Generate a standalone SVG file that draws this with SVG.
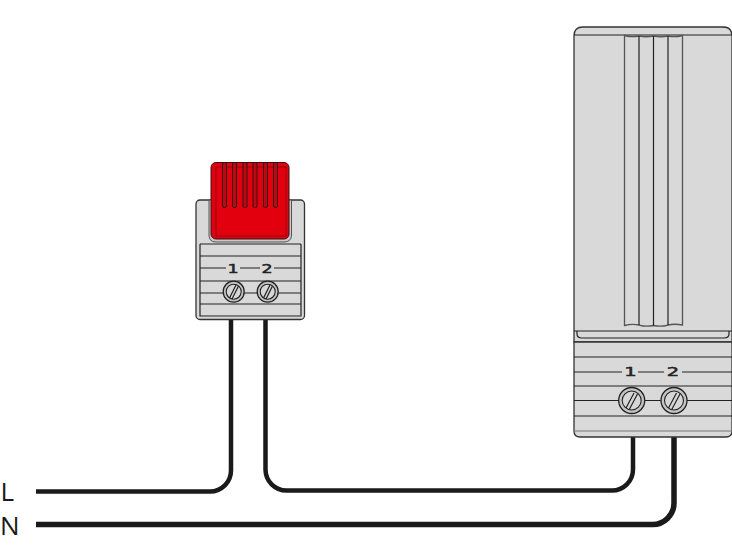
<svg xmlns="http://www.w3.org/2000/svg" width="732" height="555" viewBox="0 0 732 555">
<style>
.body{fill:#d9d9d9;stroke:#333;stroke-width:1.300}
.ln{fill:none;stroke:#222;stroke-width:1.200}
.wire{fill:none;stroke:#1a1a1a;stroke-width:4.500}
.num{font-family:"DejaVu Sans",sans-serif;fill:#222;stroke:#222;stroke-width:0.500;text-anchor:middle}
.lbl{font-family:"Open Sans",sans-serif;font-size:26px;fill:#1a1a1a}
.scr{fill:#c4c4c4;stroke:#222;stroke-width:1.300}
.scr2{fill:#d6d6d6;stroke:#222;stroke-width:1.100}
.rib{fill:#b80a12;stroke:#3a1010;stroke-width:1}
</style>
<g id="connectors">
<path class="wire" d="M231 320V470.500A21 21 0 0 1 210 491.500H36"/>
<path class="wire" d="M265.500 320V469.500A21 21 0 0 0 286.500 490.500H612A21 21 0 0 0 633 469.500V437"/>
<path class="wire" style="stroke-width:5.500" d="M674 437V503A21.500 21.500 0 0 1 652.500 524.500H36"/>
</g>
<g id="thermostat">
<rect class="body" x="196" y="200" width="108.500" height="119.500" rx="4"/>
<path class="ln" d="M200 244V316H301V244M200 244H301M200 256H301M200 268H226M240 268H260M274 268H301M200 281H301M200 293H223M244 293H257M278 293H301M200 304H301"/>
<path d="M209 200V235Q209 242 216 242H284Q291.500 242 291.500 235V200Z" fill="#c9c9c9" stroke="#555" stroke-width="1"/>
<rect x="211" y="162.500" width="78" height="76.500" rx="5" fill="#e2000f" stroke="#3a1010" stroke-width="1"/>
<rect x="216" y="167" width="70" height="69" fill="none" stroke="#8f0a10" stroke-width="1"/>
<rect class="rib" x="222.500" y="162.500" width="4" height="45" rx="1.500"/>
<rect class="rib" x="232.500" y="162.500" width="4" height="45" rx="1.500"/>
<rect class="rib" x="243" y="162.500" width="4" height="45" rx="1.500"/>
<rect class="rib" x="253" y="162.500" width="4" height="45" rx="1.500"/>
<rect class="rib" x="263.500" y="162.500" width="4" height="45" rx="1.500"/>
<rect class="rib" x="273.500" y="162.500" width="4" height="45" rx="1.500"/>
<text class="num" transform="translate(233 272.500) scale(1.400 1)" font-size="12.500">1</text>
<text class="num" transform="translate(267 272.500) scale(1.400 1)" font-size="12.500">2</text>
<circle class="scr" cx="233.700" cy="291.700" r="10.500"/>
<circle class="scr2" cx="233.700" cy="291.700" r="7.500"/>
<path class="ln" d="M229.500 298L236 285M232 299L238.500 286"/>
<circle class="scr" cx="267.700" cy="291.700" r="10.500"/>
<circle class="scr2" cx="267.700" cy="291.700" r="7.500"/>
<path class="ln" d="M263.500 298L270 285M266 299L272.500 286"/>
</g>
<g id="heater">
<path class="body" d="M574 342V36Q574 27 583 27H723Q732 27 732 36V342Z"/>
<path class="ln" d="M574 35H732M574 331H732"/>
<path d="M577 331V334Q577 338 582 338H724Q729 338 729 334V331" class="ln"/>
<path d="M624.500 35.500Q632 37.500 639 36Q646 37.500 653.500 36Q661 37.500 668 36Q675 37.500 682.500 35.500V325Q675 323.500 668 325Q661 327 653.500 325.500Q646 327 639 325Q632 323.500 624.500 325.500Z" fill="#d9d9d9" stroke="#555" stroke-width="1.300"/>
<path class="ln" d="M639 36V325M653.500 36V325.500M668 36V325"/>
<path class="body" d="M574 342H732V431Q732 437 726 437H580Q574 437 574 431Z"/>
<path class="ln" d="M574 357H732M574 372H622M638 372H664M682 372H732M574 386H732M574 400.500H619M645 400.500H661M687 400.500H732M574 416H732"/>
<path d="M574 431H732" fill="none" stroke="#777" stroke-width="1"/>
<text class="num" transform="translate(630.500 375.500) scale(1.500 1)" font-size="13">1</text>
<text class="num" transform="translate(673 375.500) scale(1.500 1)" font-size="13">2</text>
<circle class="scr" cx="631.700" cy="400.500" r="13"/>
<circle class="scr2" cx="631.700" cy="400.500" r="9.500"/>
<path class="ln" d="M626 408L634 393M629.500 409L637.500 394"/>
<circle class="scr" cx="674" cy="400.500" r="13"/>
<circle class="scr2" cx="674" cy="400.500" r="9.500"/>
<path class="ln" d="M668.500 408L676.500 393M672 409L680 394"/>
</g>
<g id="labels">
<text class="lbl" x="0.500" y="501">L</text>
<text class="lbl" x="0" y="535">N</text>
</g>
</svg>
